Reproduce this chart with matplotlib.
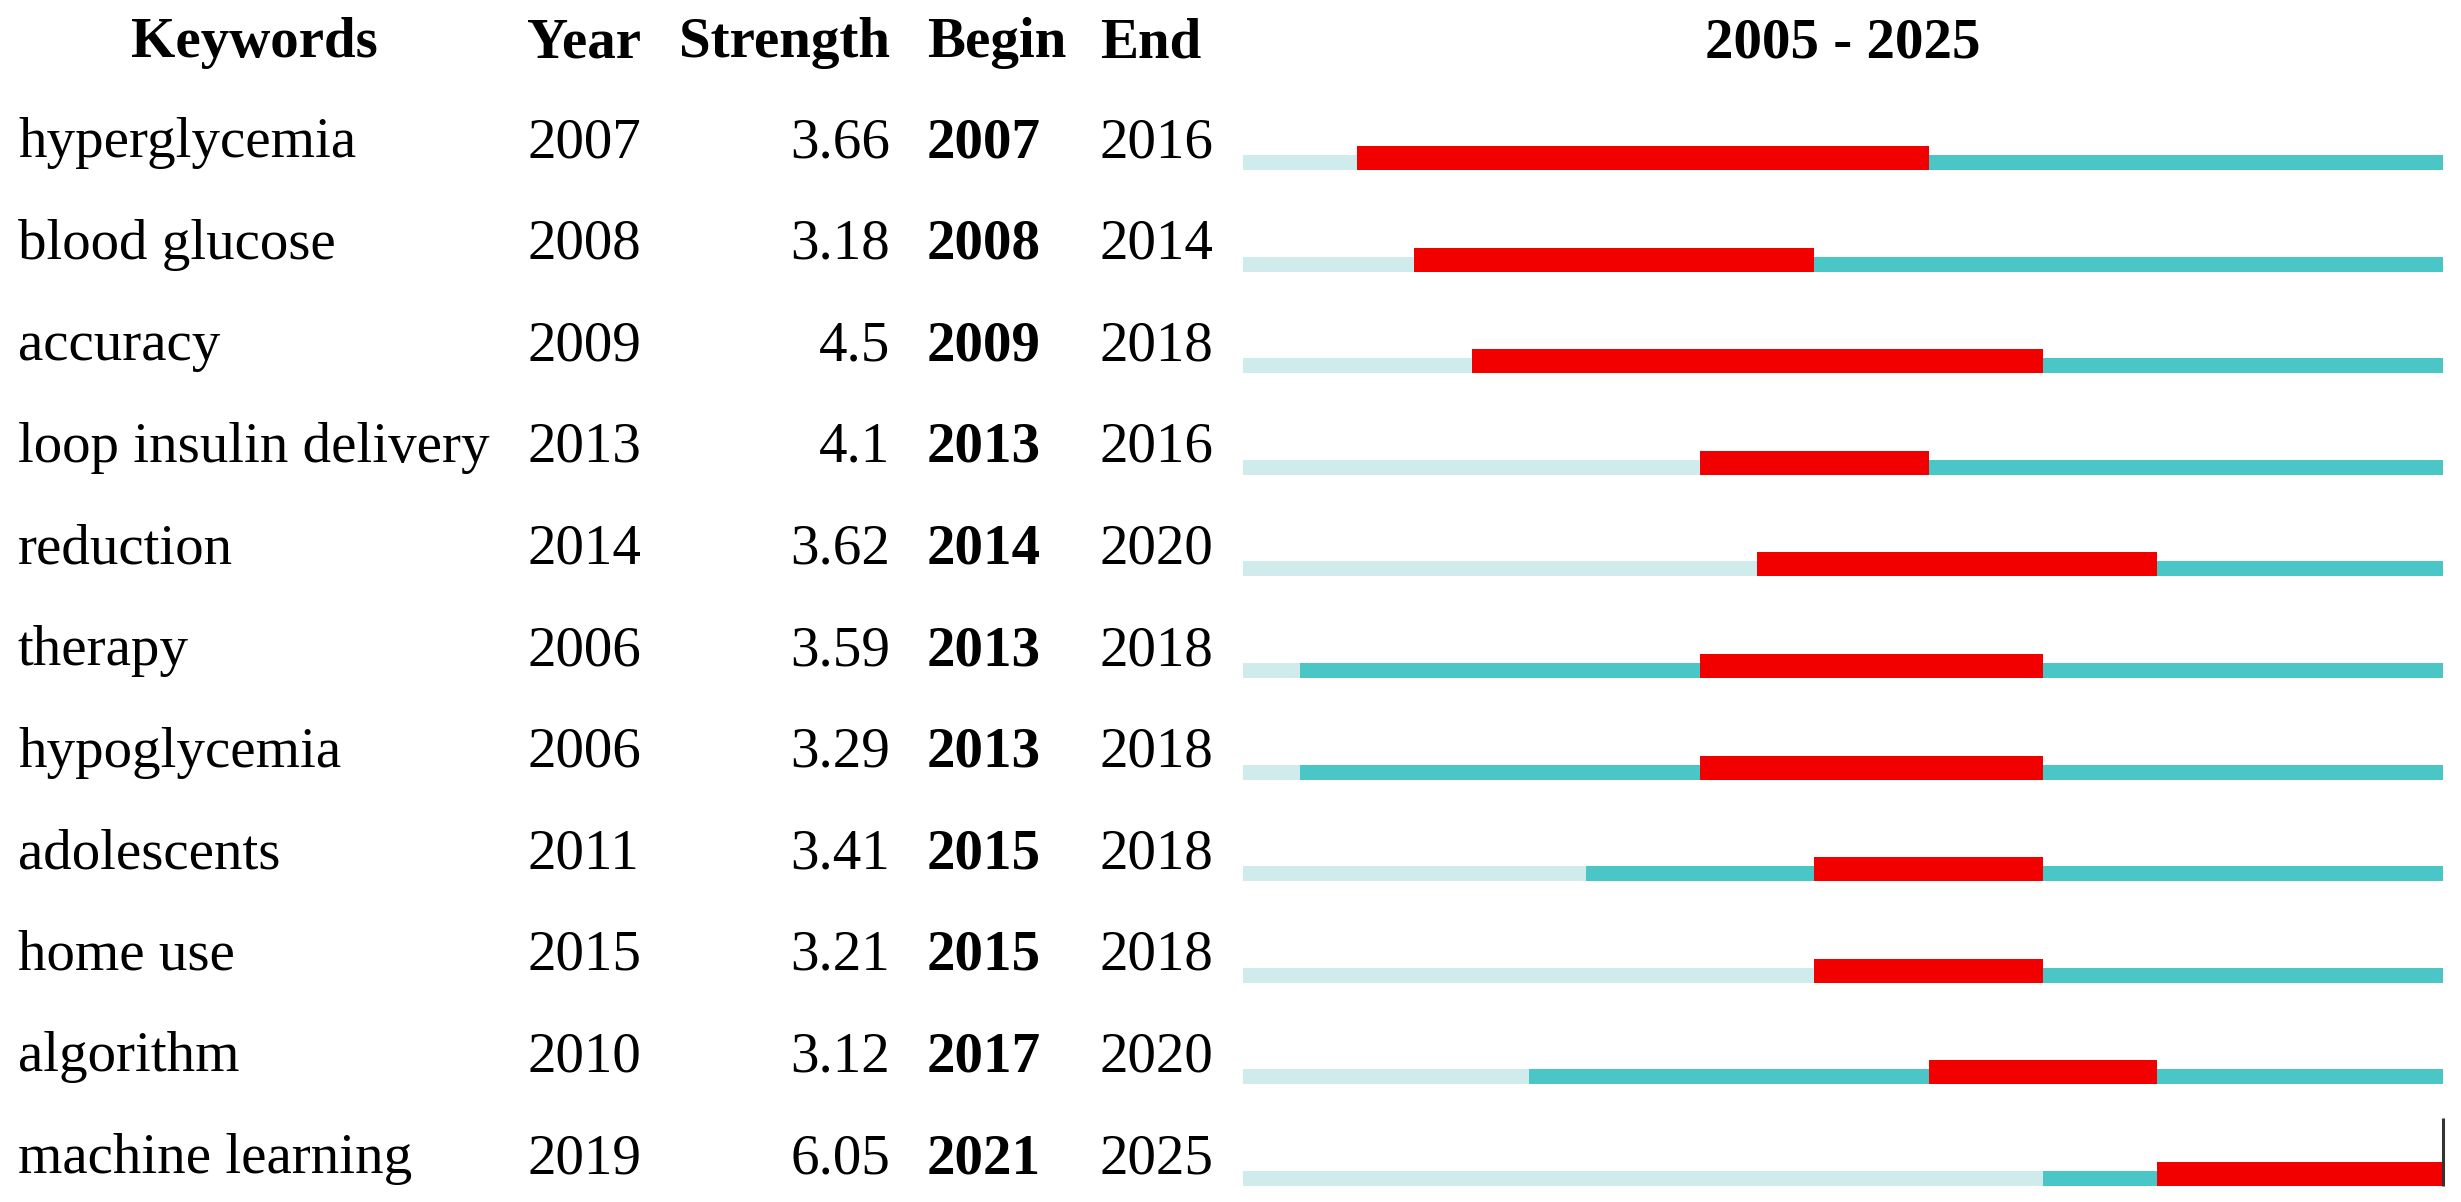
import matplotlib
matplotlib.use("Agg")
import matplotlib.pyplot as plt
from matplotlib.transforms import blended_transform_factory

keywords = ["hyperglycemia", "blood glucose", "accuracy", "loop insulin delivery",
            "reduction", "therapy", "hypoglycemia", "adolescents", "home use",
            "algorithm", "machine learning"]
years = [2007, 2008, 2009, 2013, 2014, 2006, 2006, 2011, 2015, 2010, 2019]
strengths = [3.66, 3.18, 4.5, 4.1, 3.62, 3.59, 3.29, 3.41, 3.21, 3.12, 6.05]
begins = [2007, 2008, 2009, 2013, 2014, 2013, 2013, 2015, 2015, 2017, 2021]
ends = [2016, 2014, 2018, 2016, 2020, 2018, 2018, 2018, 2018, 2020, 2025]
start_year, end_year = 2005, 2025
headers = ["Keywords", "Year", "Strength", "Begin", "End", f"{start_year} - {end_year}"]

W, H = 2461, 1202
DPI = 100
fig = plt.figure(figsize=(W / DPI, H / DPI), dpi=DPI)
fig.patch.set_facecolor("white")

# layout (pixels)
bar_x0, bar_x1 = 1243, 2443
row0_bottom, row_step = 170, 101.6
px_per_year = (bar_x1 - bar_x0) / (end_year + 1 - start_year)

ax = fig.add_axes([0, 0, 1, 1])
ax.set_xlim(start_year - bar_x0 / px_per_year, end_year + 1 + (W - bar_x1) / px_per_year)
ax.set_ylim((H - row0_bottom) / row_step, -row0_bottom / row_step)
ax.axis("off")

LIGHT = "#CFEBEC"
TEAL = "#4AC6C6"
RED = "#F20000"
h_thin = 15 / row_step
h_red = 24 / row_step

span = end_year + 1 - start_year
for i, (y, b, e) in enumerate(zip(years, begins, ends)):
    ax.barh(i - h_thin, y - start_year, left=start_year, height=h_thin,
            align="edge", color=LIGHT, linewidth=0)
    ax.barh(i - h_thin, end_year + 1 - y, left=y, height=h_thin,
            align="edge", color=TEAL, linewidth=0)
    ax.barh(i - h_red, e + 1 - b, left=b, height=h_red,
            align="edge", color=RED, linewidth=0)

# small vertical mark at the end of the last row
last = len(keywords) - 1
ax.vlines(end_year + 1, last - 68 / row_step, last, color="#333333", linewidth=2.2)

font = "Liberation Serif"
fs = 41
tr = blended_transform_factory(fig.transFigure, ax.transData)
base_off = 13 / row_step
head_y = (57 - row0_bottom) / row_step

col_kw = 18 / W
col_kw_head = 254 / W
col_year = 527 / W
col_str = 890 / W
col_begin = 927 / W
col_end = 1100 / W

hkw = dict(fontsize=fs, fontfamily=font, fontweight="bold", va="baseline", transform=tr)
fig_texts = [
    (col_kw_head, headers[0], "center"),
    (col_year, headers[1], "left"),
    (col_str, headers[2], "right"),
    (col_begin, headers[3], "left"),
    (col_end, headers[4], "left"),
]
for x, s, ha in fig_texts:
    ax.text(x, head_y, s, ha=ha, **hkw)
ax.text((start_year + end_year + 1) / 2, head_y, headers[5], ha="center",
        fontsize=fs, fontfamily=font, fontweight="bold", va="baseline")

nkw = dict(fontsize=fs, fontfamily=font, va="baseline", transform=tr)
for i in range(len(keywords)):
    yb = i - base_off
    ax.text(col_kw, yb, keywords[i], ha="left", **nkw)
    ax.text(col_year, yb, str(years[i]), ha="left", **nkw)
    ax.text(col_str, yb, f"{strengths[i]:g}", ha="right", **nkw)
    ax.text(col_begin, yb, str(begins[i]), ha="left", fontweight="bold", **nkw)
    ax.text(col_end, yb, str(ends[i]), ha="left", **nkw)

fig.savefig("out.png", dpi=DPI, facecolor="white")
